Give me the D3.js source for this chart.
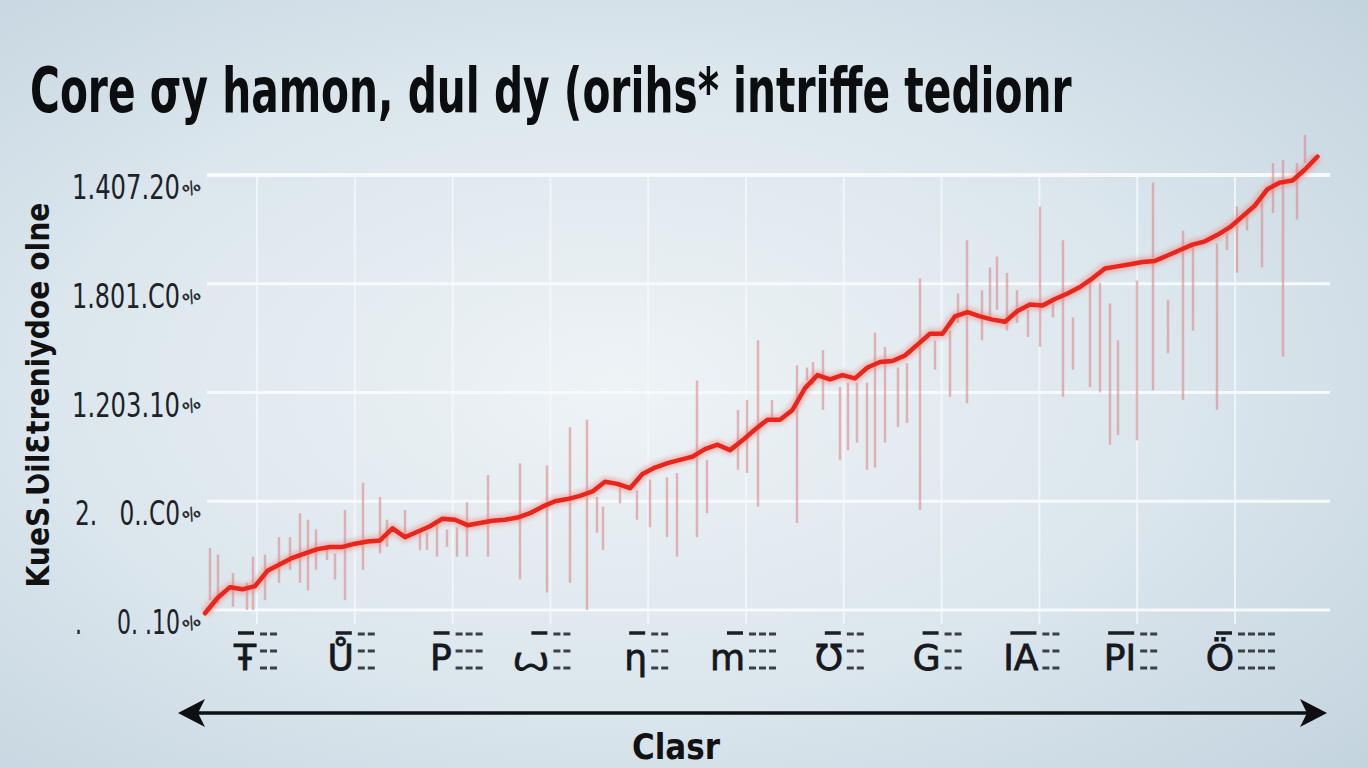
<!DOCTYPE html>
<html>
<head>
<meta charset="utf-8">
<script src="https://cdn.jsdelivr.net/npm/d3@7"></script>
<style>
    html, body { margin: 0; padding: 0; overflow: hidden; }
    #graphContainer { width: 1368px; height: 768px; }
    text { white-space: pre; }
</style>
</head>
<body>
<div id="graphContainer"></div>
<script>
//chart data
var title = "Core \u03c3y hamon, dul dy (orihs* intriffe tedionr",
    yTitle = "KueS.\u01b2il\u0190treniydoe olne",
    xTitle = "Clasr";

var yTickValues = [0, 1, 2, 3, 4],
    yTickLabels = [".     0. .10", "2.   0..C0", "1.203.10", "1.801.C0", "1.407.20"];

var xLabels = ["\u0166", "\u016e", "P", "\ua64d", "\u019e", "m", "\u01b1", "G", "IA", "PI", "\u00d6"],
    xDashes = [2, 2, 3, 2, 2, 3, 2, 2, 2, 2, 4];

//main red series, one value per step
var lineValues = [-0.03, 0.11, 0.21, 0.19, 0.22, 0.36, 0.42, 0.48, 0.52, 0.56,
    0.58, 0.58, 0.61, 0.63, 0.64, 0.75, 0.67, 0.72, 0.77, 0.84,
    0.83, 0.78, 0.80, 0.82, 0.83, 0.85, 0.89, 0.95, 1.00, 1.02,
    1.05, 1.09, 1.18, 1.16, 1.12, 1.25, 1.31, 1.35, 1.38, 1.41,
    1.48, 1.52, 1.47, 1.56, 1.66, 1.75, 1.75, 1.84, 2.04, 2.16,
    2.12, 2.16, 2.13, 2.23, 2.28, 2.29, 2.34, 2.44, 2.54, 2.54,
    2.70, 2.74, 2.70, 2.67, 2.65, 2.75, 2.81, 2.80, 2.86, 2.91,
    2.97, 3.05, 3.14, 3.16, 3.18, 3.20, 3.21, 3.26, 3.31, 3.36,
    3.39, 3.45, 3.52, 3.62, 3.72, 3.87, 3.93, 3.95, 4.05, 4.17];

//pale range bars: position (in steps), high, low
var barPos = [0.4, 1.04, 2.24, 3.36, 3.84, 4.8, 5.92, 6.8, 7.6, 8.24, 8.88, 9.76, 10.4, 11.2, 12.64,
    14.0, 14.56, 16.0, 17.2, 17.76, 18.56, 19.36, 20.16, 20.96, 22.64, 25.2, 27.36, 29.2, 30.56,
    31.36, 31.84, 33.2, 34.56, 35.6, 36.96, 37.76, 39.36, 40.16, 42.64, 43.36, 44.24, 45.36,
    47.36, 48.16, 48.64, 49.44, 50.8, 51.44, 52.16, 52.96, 53.6, 54.4, 55.44, 56.16, 57.2,
    58.4, 59.6, 60.24, 60.96, 62.16, 62.8, 63.36, 64.16, 64.96, 65.84, 66.8, 67.84, 68.64,
    69.44, 70.8, 71.6, 72.4, 73.04, 74.56, 75.84, 77.04, 78.24, 79.04, 80.96, 81.76, 82.56,
    83.36, 84.56, 85.44, 86.24, 87.36, 88.0];
var barHigh = [0.57, 0.51, 0.34, 0.25, 0.49, 0.51, 0.67, 0.67, 0.89, 0.83, 0.74, 0.58, 0.52, 0.92, 1.17,
    1.04, 0.83, 0.92, 0.71, 0.71, 0.80, 0.74, 0.76, 0.99, 1.24, 1.35, 1.33, 1.68, 1.75,
    1.04, 0.95, 1.13, 1.10, 1.20, 1.22, 1.26, 2.11, 1.38, 1.84, 1.93, 2.48, 1.93,
    2.25, 2.23, 2.28, 2.39, 2.05, 2.09, 2.09, 2.09, 2.55, 2.42, 2.23, 2.27, 3.05,
    2.48, 2.57, 2.91, 3.40, 2.94, 3.15, 3.25, 3.10, 2.94, 2.76, 3.71, 2.82, 3.40,
    2.69, 3.03, 3.01, 2.82, 2.48, 3.03, 3.93, 2.85, 3.49, 3.34, 3.37, 3.47, 3.71,
    3.65, 3.77, 4.11, 4.14, 4.11, 4.37];
var barLow = [0.09, 0.06, 0.03, 0.00, 0.00, 0.09, 0.25, 0.37, 0.25, 0.18, 0.37, 0.46, 0.28, 0.09, 0.37,
    0.52, 0.58, 0.67, 0.55, 0.55, 0.49, 0.58, 0.49, 0.49, 0.49, 0.28, 0.16, 0.25, 0.00,
    0.71, 0.55, 0.98, 0.83, 0.76, 0.67, 0.49, 0.67, 0.89, 1.29, 1.26, 0.95, 1.77,
    0.80, 2.11, 2.07, 1.84, 1.38, 1.47, 1.54, 1.29, 1.31, 1.54, 1.68, 1.72, 0.92,
    2.21, 1.96, 2.64, 1.90, 2.48, 2.67, 2.76, 2.57, 2.64, 2.51, 2.42, 2.69, 1.96,
    2.21, 2.05, 2.00, 1.52, 1.61, 1.56, 2.02, 2.36, 1.93, 2.57, 1.84, 3.31, 3.10,
    3.49, 3.15, 3.65, 2.33, 3.59, 4.11];

//set up drawingspace
var width = 1368,
    height = 768,
    margin = {top: 175, left: 205, bottom: 158, right: 38};

var svg = d3.select("#graphContainer").append("svg")
    .attr("width", width)
    .attr("height", height);

//background gradient, lighter in the middle
var defs = svg.append("defs");
var bg = defs.append("radialGradient").attr("id", "bg")
    .attr("cx", "45%").attr("cy", "50%").attr("r", "75%");
bg.append("stop").attr("offset", "0%").attr("stop-color", "#eef3f6");
bg.append("stop").attr("offset", "55%").attr("stop-color", "#dbe6ed");
bg.append("stop").attr("offset", "100%").attr("stop-color", "#c3d3de");

var glow = defs.append("filter").attr("id", "glow")
    .attr("x", "-5%").attr("y", "-5%").attr("width", "110%").attr("height", "110%");
glow.append("feGaussianBlur").attr("stdDeviation", 2);

svg.append("rect")
    .attr("width", width)
    .attr("height", height)
    .attr("fill", "url(#bg)");

//scales
var x = d3.scaleLinear()
    .domain([0, lineValues.length - 1])
    .range([margin.left, width - margin.right - 12.5]);

var y = d3.scaleLinear()
    .domain([0, 4])
    .range([height - margin.bottom, margin.top]);

var xCat = d3.scalePoint()
    .domain(d3.range(xLabels.length))
    .range([257, 1235]);

//squeeze a text horizontally so it spans the given width
function fitWidth(sel, tx, ty, w) {
    var natural = sel.node().getComputedTextLength();
    sel.attr("transform", "translate(" + tx + "," + ty + ") scale(" + (w / natural) + ",1)");
}

//grid lines
var grid = svg.append("g").attr("class", "grid");

grid.selectAll(".vgrid")
    .data(d3.range(xLabels.length))
    .enter().append("line")
    .attr("class", "vgrid")
    .attr("x1", function (d) { return xCat(d); })
    .attr("x2", function (d) { return xCat(d); })
    .attr("y1", y(4))
    .attr("y2", y(0) + 14)
    .attr("stroke", "#f4f8fa")
    .attr("stroke-width", 2)
    .attr("opacity", 0.85);

grid.selectAll(".hgrid")
    .data(yTickValues)
    .enter().append("line")
    .attr("class", "hgrid")
    .attr("x1", margin.left + 2)
    .attr("x2", width - 38)
    .attr("y1", function (d) { return y(d); })
    .attr("y2", function (d) { return y(d); })
    .attr("stroke", "#f7fafc")
    .attr("stroke-width", function (d) { return d === 4 ? 4 : 3; });

//y tick labels, squeezed like the narrow face in the picture
var yAxis = svg.append("g").attr("class", "yaxis");

yAxis.selectAll(".ylabel")
    .data(yTickValues)
    .enter().append("text")
    .attr("class", "ylabel")
    .attr("text-anchor", "end")
    .attr("font-family", "'DejaVu Sans Condensed', sans-serif")
    .attr("font-size", 34)
    .attr("fill", "#1d2228")
    .text(function (d, i) { return yTickLabels[i]; })
    .each(function (d) {
        fitWidth(d3.select(this), 180, y(d) + 24, d < 2 ? 105 : 108);
    });

yAxis.selectAll(".pct")
    .data(yTickValues)
    .enter().append("text")
    .attr("class", "pct")
    .attr("transform", function (d) { return "translate(195," + (y(d) + 18) + ") rotate(-35)"; })
    .attr("text-anchor", "middle")
    .attr("font-family", "'DejaVu Sans', sans-serif")
    .attr("font-size", 17)
    .attr("font-weight", "bold")
    .attr("fill", "#2a2f35")
    .text("%");

//y axis title
var yt = svg.append("text")
    .attr("text-anchor", "middle")
    .attr("font-family", "'DejaVu Sans Condensed', sans-serif")
    .attr("font-weight", "bold")
    .attr("font-size", 32)
    .attr("fill", "#111")
    .text(yTitle);
var ytLen = yt.node().getComputedTextLength();
yt.attr("transform", "translate(49,395) rotate(-90) scale(" + (385 / ytLen) + ",1)");

//range bars
var bars = svg.append("g").attr("class", "bars");

bars.selectAll(".bar")
    .data(barPos)
    .enter().append("line")
    .attr("class", "bar")
    .attr("x1", function (d) { return x(d); })
    .attr("x2", function (d) { return x(d); })
    .attr("y1", function (d, i) { return y(barHigh[i]); })
    .attr("y2", function (d, i) { return y(barLow[i]); })
    .attr("stroke", "#dc8a8a")
    .attr("stroke-width", 2.5)
    .attr("opacity", 0.6);

//red line with a soft halo
var line = d3.line()
    .x(function (d, i) { return x(i); })
    .y(function (d) { return y(d); });

svg.append("path")
    .datum(lineValues)
    .attr("d", line)
    .attr("fill", "none")
    .attr("stroke", "#f27a70")
    .attr("stroke-width", 10)
    .attr("stroke-linejoin", "round")
    .attr("opacity", 0.45)
    .attr("filter", "url(#glow)");

svg.append("path")
    .datum(lineValues)
    .attr("d", line)
    .attr("fill", "none")
    .attr("stroke", "#e8261c")
    .attr("stroke-width", 4.5)
    .attr("stroke-linejoin", "round")
    .attr("stroke-linecap", "round");

//x category labels with their little dash marks
var xAxis = svg.append("g").attr("class", "xaxis");

var lab = xAxis.selectAll(".xlabel")
    .data(d3.range(xLabels.length))
    .enter().append("g")
    .attr("class", "xlabel")
    .attr("transform", function (d) { return "translate(" + xCat(d) + ",0)"; });

lab.append("text")
    .attr("x", -1)
    .attr("y", 670)
    .attr("text-anchor", "end")
    .attr("font-family", "'DejaVu Sans', sans-serif")
    .attr("font-size", 36)
    .attr("stroke", "#15181c")
    .attr("stroke-width", 0.8)
    .attr("fill", "#15181c")
    .text(function (d) { return xLabels[d]; });

lab.append("line")
    .attr("x1", function (d) { return -19 - (xLabels[d].length - 1) * 10; })
    .attr("x2", -3)
    .attr("y1", 633)
    .attr("y2", 633)
    .attr("stroke", "#1b1e22")
    .attr("stroke-width", 3.5);

[634, 651, 668].forEach(function (rowY) {
    lab.each(function (d) {
        var n = xDashes[d];
        for (var k = 0; k < n; k++) {
            d3.select(this).append("line")
                .attr("x1", 3 + k * 10)
                .attr("x2", 10 + k * 10)
                .attr("y1", rowY)
                .attr("y2", rowY)
                .attr("stroke", "#3a3f45")
                .attr("stroke-width", 3);
        }
    });
});

//double headed arrow under the chart
var arrowY = 713;
svg.append("line")
    .attr("x1", 188)
    .attr("x2", 1316)
    .attr("y1", arrowY)
    .attr("y2", arrowY)
    .attr("stroke", "#0d0f12")
    .attr("stroke-width", 3.5);

svg.append("path")
    .attr("d", "M178," + arrowY + " L205," + (arrowY - 14) + " L198," + arrowY + " L205," + (arrowY + 14) + " Z")
    .attr("fill", "#0d0f12");

svg.append("path")
    .attr("d", "M1327," + arrowY + " L1300," + (arrowY - 14) + " L1307," + arrowY + " L1300," + (arrowY + 14) + " Z")
    .attr("fill", "#0d0f12");

var xt = svg.append("text")
    .attr("text-anchor", "middle")
    .attr("font-family", "'DejaVu Sans Condensed', sans-serif")
    .attr("font-weight", "bold")
    .attr("font-size", 36)
    .attr("fill", "#111")
    .text(xTitle);
fitWidth(xt, 676, 759, 88);

//title
var tt = svg.append("text")
    .attr("font-family", "'DejaVu Sans Condensed', sans-serif")
    .attr("font-weight", "bold")
    .attr("font-size", 62)
    .attr("fill", "#0c0d0f")
    .text(title);
fitWidth(tt, 30, 112, 1042);
</script>
</body>
</html>
